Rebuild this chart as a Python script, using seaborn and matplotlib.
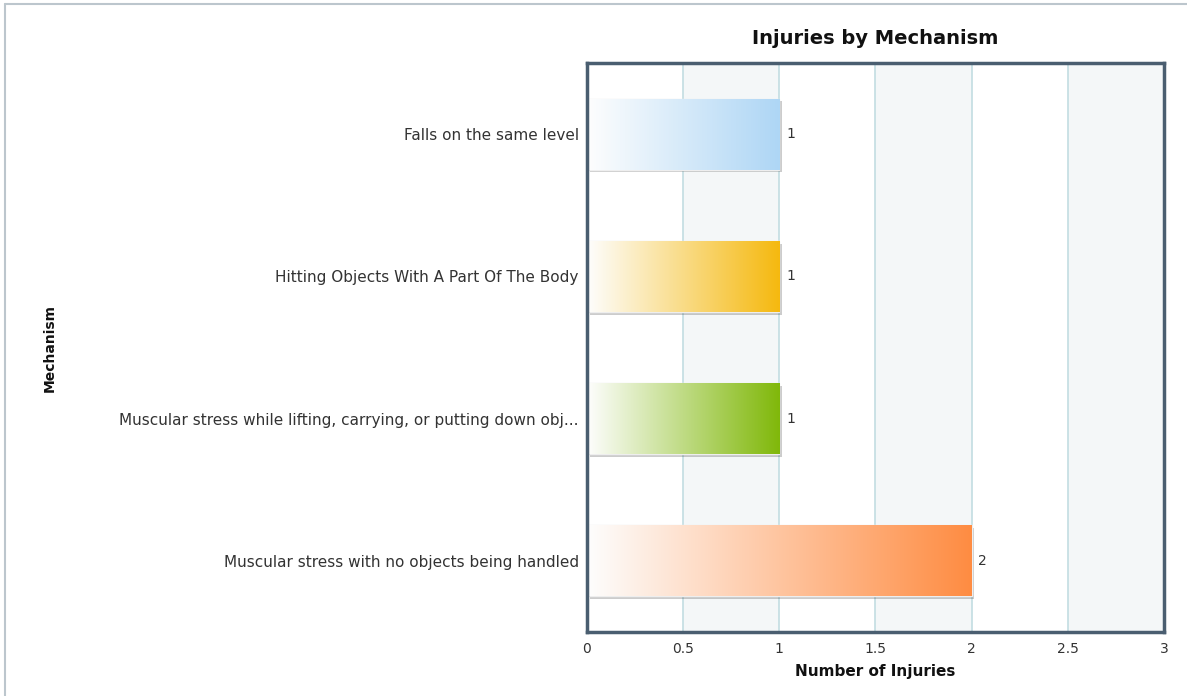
import numpy as np
import matplotlib
matplotlib.use("Agg")
import matplotlib.pyplot as plt
import matplotlib.patheffects as pe
from matplotlib.colors import to_rgb
from matplotlib.lines import Line2D
import seaborn as sns

# данные графика
mechanisms = [
    "Falls on the same level",
    "Hitting Objects With A Part Of The Body",
    "Muscular stress while lifting, carrying, or putting down obj...",
    "Muscular stress with no objects being handled",
]
injuries = [1, 1, 1, 2]
bar_colors = ["#aed6f5", "#f5b90f", "#80b80a", "#ff8c42"]
x_ticks = [0, 0.5, 1, 1.5, 2, 2.5, 3]
x_tick_labels = ["0", "0.5", "1", "1.5", "2", "2.5", "3"]

sns.set_theme(style="white")
plt.rcParams["font.family"] = ["DejaVu Sans"]

fig = plt.figure(figsize=(11.87, 6.96), dpi=100)
ax = fig.add_axes([0.4945, 0.092, 0.4861, 0.8175])

sns.barplot(x=injuries, y=mechanisms, orient="h", width=0.5, color="white",
            ax=ax, zorder=3)

ax.set_xlim(0, 3)
# чередующиеся полосы фона и сетка
for i in range(len(x_ticks) - 1):
    if i % 2 == 1:
        ax.axvspan(x_ticks[i], x_ticks[i + 1], color="#f4f7f8", zorder=0, lw=0)
for xt in x_ticks[1:-1]:
    ax.axvline(xt, color="#c2dde2", lw=1.2, zorder=1)

# градиентная заливка столбцов
for bar, col, val in zip(ax.patches, bar_colors, injuries):
    bar.set_edgecolor("#eeeeee")
    bar.set_linewidth(1.0)
    bar.set_path_effects([pe.SimplePatchShadow(offset=(2, -2), shadow_rgbFace="#000000", alpha=0.2),
                          pe.Normal()])
    rgb = np.array(to_rgb(col))
    t = np.linspace(0, 1, 256)[:, None]
    grad = (1 - t) * np.array([1.0, 1.0, 1.0]) * 0.995 + t * rgb
    grad = grad[None, :, :]
    x0, y0 = bar.get_x(), bar.get_y()
    w, h = bar.get_width(), bar.get_height()
    im = ax.imshow(grad, extent=(x0, x0 + w, y0 + h, y0), aspect="auto",
                   interpolation="bilinear", zorder=4)
    im.set_clip_path(bar)
    ax.text(x0 + w + 0.035, y0 + h / 2, str(val),
            va="center", ha="left", fontsize=10, color="#333333", zorder=5)

ax.set_ylim(3.5, -0.5)
ax.set_xticks(x_ticks)
ax.set_xticklabels(x_tick_labels)
ax.tick_params(axis="both", length=0, colors="#333333")
ax.tick_params(axis="x", pad=7, labelsize=10)
ax.tick_params(axis="y", pad=6, labelsize=11)

for s in ax.spines.values():
    s.set_visible(True)
    s.set_color("#4a5e70")
    s.set_linewidth(2.5)
    s.set_zorder(6)

ax.set_title("Injuries by Mechanism", fontsize=14, fontweight="bold",
             color="#111111", pad=14)
ax.set_xlabel("Number of Injuries", fontsize=11, fontweight="bold",
              color="#111111", labelpad=6)
ax.set_ylabel("")
fig.text(0.042, 0.5, "Mechanism", rotation=90, fontsize=10, fontweight="bold",
         color="#111111", ha="center", va="center")

# рамка вокруг области графика (сверху и слева)
fig.add_artist(Line2D([5 / 1187, 1], [1 - 4 / 696, 1 - 4 / 696],
                      transform=fig.transFigure, color="#bcc6cd", lw=1.5))
fig.add_artist(Line2D([5 / 1187, 5 / 1187], [0, 1 - 4 / 696],
                      transform=fig.transFigure, color="#bcc6cd", lw=1.5))

fig.savefig("out.png", dpi=100)
